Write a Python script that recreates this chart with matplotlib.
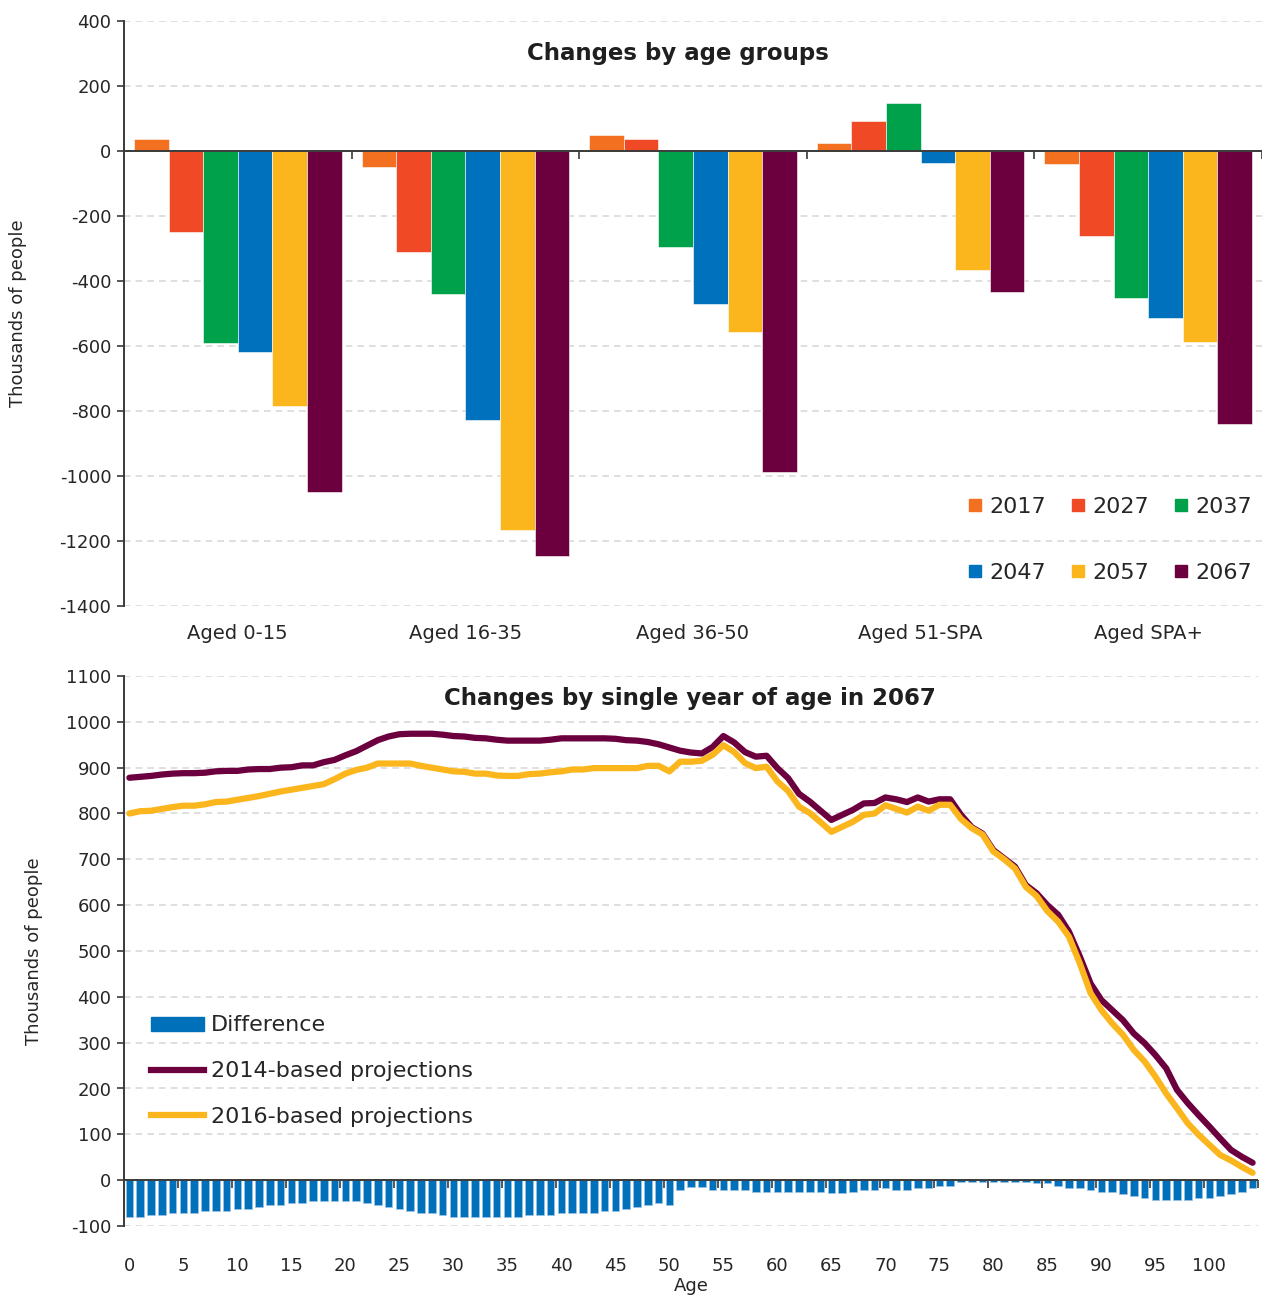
import matplotlib
matplotlib.use('Agg')
import matplotlib.pyplot as plt
from matplotlib.lines import Line2D
from matplotlib.patches import Patch
import matplotlib.markers as mmarkers
import numpy as np

plt.rcParams['font.family'] = ['DejaVu Sans']
plt.rcParams['axes.unicode_minus'] = False

# ---------------- data: top chart ----------------
groups = ['Aged 0-15', 'Aged 16-35', 'Aged 36-50', 'Aged 51-SPA', 'Aged SPA+']
years = ['2017', '2027', '2037', '2047', '2057', '2067']
v2017 = [38, -48, 50, 25, -40]
v2027 = [-250, -310, 38, 93, -262]
v2037 = [-590, -441, -295, 148, -453]
v2047 = [-619, -829, -471, -36, -514]
v2057 = [-786, -1166, -557, -366, -588]
v2067 = [-1049, -1246, -987, -433, -840]
year_colors = ['#F37021', '#EF4A25', '#00A14B', '#0071BC', '#FBB61E', '#6C003F']
top_yticks = list(range(-1400, 401, 200))

# ---------------- data: bottom chart ----------------
ages = list(range(0, 105))
proj2014 = [878, 880, 882, 885, 887, 888, 888, 889, 892, 893,
            893, 896, 897, 897, 900, 901, 905, 905, 912, 917,
            927, 936, 948, 960, 968, 973, 974, 974, 974, 972,
            969, 968, 965, 964, 961, 959, 959, 959, 959, 961,
            964, 964, 964, 964, 964, 963, 960, 959, 956, 951,
            944, 937, 933, 931, 945, 969, 955, 934, 924, 926,
            899, 877, 843, 826, 806, 786, 797, 808, 822, 823,
            835, 831, 825, 835, 826, 831, 831, 797, 770, 756,
            720, 702, 684, 644, 626, 600, 579, 542, 488, 429,
            393, 371, 349, 320, 299, 273, 244, 197, 168, 142,
            117, 91, 66, 51, 38]
proj2016 = [800, 805, 806, 810, 814, 817, 817, 820, 825, 826,
            830, 834, 838, 843, 848, 852, 856, 860, 864, 875,
            887, 895, 900, 909, 909, 909, 909, 904, 900, 896,
            892, 891, 887, 887, 883, 882, 882, 886, 887, 890,
            892, 896, 896, 899, 899, 899, 899, 899, 904, 904,
            892, 913, 913, 915, 928, 949, 934, 910, 899, 902,
            870, 849, 815, 801, 781, 760, 771, 782, 797, 800,
            818, 810, 802, 815, 806, 819, 819, 788, 768, 754,
            717, 700, 680, 640, 620, 587, 564, 531, 473, 408,
            371, 342, 317, 284, 259, 226, 189, 157, 124, 99,
            77, 55, 43, 29, 16]
difference = [-81, -81, -76, -76, -72, -72, -72, -67, -67, -67,
              -63, -63, -59, -54, -54, -50, -50, -46, -46, -46,
              -46, -46, -50, -54, -59, -63, -67, -72, -72, -76,
              -81, -81, -81, -81, -81, -81, -81, -76, -76, -76,
              -72, -72, -72, -72, -67, -67, -63, -59, -54, -50,
              -54, -21, -16, -16, -21, -21, -21, -21, -26, -26,
              -26, -26, -26, -26, -26, -27, -27, -26, -21, -21,
              -17, -21, -21, -17, -17, -13, -13, -4, -4, -4,
              -4, -4, -4, -4, -7, -7, -13, -17, -17, -21,
              -26, -26, -30, -35, -39, -44, -44, -44, -44, -39,
              -39, -35, -30, -26, -17]
age_ticks = list(range(0, 101, 5))
bottom_yticks = list(range(-100, 1101, 100))

TXT = '#262626'
AX = '#3a3a3a'
GRID = '#D9D9D9'

W, H = 1262, 1300
fig = plt.figure(figsize=(W / 100, H / 100), dpi=100)


def style_axes(ax, yticks, xpad):
    ax.set_yticks(yticks)
    ax.set_yticklabels([str(v) for v in yticks])
    ax.set_ylim(yticks[0], yticks[-1])
    for s in ['top', 'right', 'bottom']:
        ax.spines[s].set_visible(False)
    ax.spines['left'].set_color(AX)
    ax.spines['left'].set_linewidth(1.4)
    ax.tick_params(axis='y', direction='out', length=5, width=1.2, color=AX,
                   labelsize=13, labelcolor=TXT, pad=4)
    ax.tick_params(axis='x', length=0, labelcolor=TXT, pad=xpad)
    ax.yaxis.grid(True, color=GRID, linestyle=(0, (4, 3)), linewidth=1.2, zorder=0)
    ax.set_axisbelow(True)
    ax.axhline(0, color=AX, linewidth=1.4, zorder=5)


# ---------------- top chart ----------------
ax1 = fig.add_axes([124 / W, 1 - 606 / H, 1138 / W, 585 / H])
x = np.arange(len(groups))
series = [v2017, v2027, v2037, v2047, v2057, v2067]
bw = 0.152
for i, (vals, col) in enumerate(zip(series, year_colors)):
    ax1.bar(x + (i - 2.5) * bw, vals, bw, color=col, edgecolor='white',
            linewidth=0.4, zorder=2)
ax1.set_xlim(-0.5, len(groups) - 0.5)
ax1.set_xticks(x)
ax1.set_xticklabels(groups)
style_axes(ax1, top_yticks, 13)
ax1.tick_params(axis='x', labelsize=14)
ax1.plot(np.arange(0.5, len(groups), 1.0), np.zeros(len(groups)), linestyle='none',
         marker=mmarkers.TICKDOWN, markersize=6, markeredgewidth=1.2, color=AX,
         zorder=5, clip_on=False)
ax1.set_ylabel('Thousands of people', fontsize=13, color=TXT)
ax1.yaxis.set_label_coords(-0.085, 0.5)
ax1.text(0.487, 0.945, 'Changes by age groups', transform=ax1.transAxes,
         ha='center', va='center', fontsize=16.5, fontweight='bold', color='#1f1f1f')

order = [0, 3, 1, 4, 2, 5]
handles = [Line2D([], [], marker='s', linestyle='none', markersize=9,
                  color=year_colors[k]) for k in order]
labels = [years[k] for k in order]
ax1.legend(handles, labels, ncol=3, loc='center', bbox_to_anchor=(0.866, 0.113),
           frameon=False, fontsize=16, labelspacing=2.05, handlelength=0.7,
           handletextpad=0.3, columnspacing=1.1, labelcolor=TXT)

# ---------------- bottom chart ----------------
ax2 = fig.add_axes([124 / W, 1 - 1226 / H, 1134 / W, 550 / H])
ax2.bar(ages, difference, 0.72, color='#0070BA', edgecolor='#9DC3E6',
        linewidth=0.5, zorder=2, label='Difference')
ax2.plot(ages, proj2014, color='#6C003F', linewidth=4.5, zorder=3,
         solid_capstyle='round', label='2014-based projections')
ax2.plot(ages, proj2016, color='#FBB61E', linewidth=4.5, zorder=4,
         solid_capstyle='round', label='2016-based projections')
ax2.set_xlim(-0.5, len(ages) - 0.5)
ax2.set_xticks(age_ticks)
ax2.set_xticklabels([str(a) for a in age_ticks])
style_axes(ax2, bottom_yticks, 22)
ax2.tick_params(axis='x', labelsize=13)
bounds = np.arange(4.5, len(ages), 5)
ax2.plot(bounds, np.zeros(len(bounds)), linestyle='none',
         marker=mmarkers.TICKDOWN, markersize=6, markeredgewidth=1.2, color=AX,
         zorder=5, clip_on=False)
ax2.set_ylabel('Thousands of people', fontsize=13, color=TXT)
ax2.yaxis.set_label_coords(-0.0715, 0.5)
ax2.set_xlabel('Age', fontsize=13, color=TXT, labelpad=2)
ax2.text(0.499, 0.96, 'Changes by single year of age in 2067', transform=ax2.transAxes,
         ha='center', va='center', fontsize=16.5, fontweight='bold', color='#1f1f1f')

h2 = [Patch(facecolor='#0070BA', edgecolor='#0070BA'),
      Line2D([], [], color='#6C003F', linewidth=4.5),
      Line2D([], [], color='#FBB61E', linewidth=4.5)]
l2 = ['Difference', '2014-based projections', '2016-based projections']
ax2.legend(h2, l2, loc='upper left', bbox_to_anchor=(0.016, 0.399), frameon=False,
           fontsize=16, handlelength=2.4, handleheight=0.6, labelspacing=1.15,
           handletextpad=0.3, borderaxespad=0, labelcolor=TXT)

fig.savefig('out.png', dpi=100, facecolor='white')
